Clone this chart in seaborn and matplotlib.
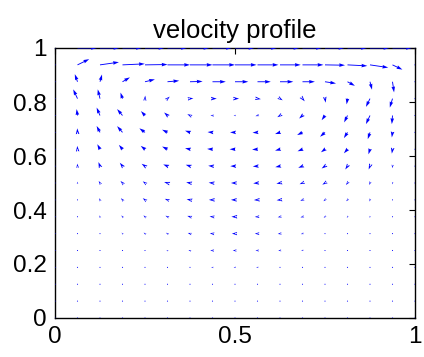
import numpy as np
import matplotlib
matplotlib.use("Agg")
import matplotlib.pyplot as plt
import seaborn as sns

# grid (17 x 17 nodes, h = 1/16)
x_nodes = [i / 16 for i in range(17)]
y_nodes = [j / 16 for j in range(17)]

# horizontal velocity, rows from y=0 (bottom) to y=1 (top)
u_rows = [
    [0, 0, 0, 0, 0, 0, 0, 0, 0, 0, 0, 0, 0, 0, 0, 0, 0],
    [0, 0, 0, 0, -.01, -.01, -.01, -.01, -.01, -.01, -.01, -.01, 0, 0, 0, 0, 0],
    [0, 0, 0, -.01, -.01, -.02, -.02, -.03, -.03, -.03, -.03, -.02, -.01, 0, 0, 0, 0],
    [0, 0, 0, -.01, -.02, -.03, -.04, -.06, -.06, -.06, -.05, -.04, -.02, -.01, 0, 0, 0],
    [0, 0, -.01, -.02, -.04, -.05, -.07, -.10, -.10, -.09, -.08, -.06, -.03, -.02, -.01, 0, 0],
    [0, 0, -.02, -.04, -.06, -.07, -.10, -.12, -.14, -.12, -.10, -.07, -.04, -.02, -.01, 0, 0],
    [0, 0, -.03, -.05, -.07, -.09, -.12, -.13, -.16, -.12, -.10, -.09, -.06, -.03, -.01, 0, 0],
    [0, 0, -.04, -.07, -.10, -.12, -.15, -.16, -.18, -.16, -.15, -.10, -.07, -.06, -.02, 0, 0],
    [0, 0, -.06, -.09, -.10, -.15, -.17, -.17, -.18, -.19, -.16, -.13, -.12, -.07, -.03, -.01, 0],
    [0, -.01, -.07, -.12, -.15, -.19, -.19, -.19, -.21, -.21, -.21, -.19, -.15, -.10, -.06, -.01, 0],
    [0, -.01, -.12, -.16, -.19, -.24, -.22, -.24, -.24, -.24, -.22, -.22, -.18, -.16, -.07, -.03, 0],
    [0, -.01, -.15, -.24, -.25, -.24, -.22, -.22, -.22, -.22, -.22, -.24, -.22, -.16, -.10, -.03, 0],
    [0, -.04, -.15, -.24, -.18, -.15, -.12, -.09, -.06, -.09, -.12, -.15, -.15, -.15, -.18, -.03, 0],
    [0, -.19, -.10, -.09, .01, .10, .15, .19, .18, .15, .12, .10, .03, -.04, -.18, -.12, 0],
    [0, -.12, .09, .33, .44, .52, .56, .59, .59, .59, .59, .55, .49, .33, .09, .07, 0],
    [0, .52, .84, .99, 1.0, 1.0, 1.0, 1.0, .96, .93, .92, .93, .89, .88, .81, .44, 0],
    [0, .86, .86, .86, .86, .86, .86, .86, .86, .86, .86, .86, .86, .86, .86, .86, 0],
]

# vertical velocity, same layout
v_rows = [
    [0] * 17,
    [0] * 17,
    [0, 0, .01, .01, .01, .01, 0, 0, 0, 0, 0, 0, -.01, 0, 0, 0, 0],
    [0, 0, .02, .02, .02, .02, .01, .01, 0, 0, 0, -.01, -.01, -.02, -.01, 0, 0],
    [0, .01, .04, .04, .04, .03, .03, .01, 0, 0, -.01, -.02, -.03, -.03, -.02, -.01, 0],
    [0, .02, .06, .06, .06, .05, .04, .02, 0, 0, -.02, -.03, -.04, -.04, -.04, -.02, 0],
    [0, .03, .08, .08, .08, .06, .05, .02, 0, -.01, -.03, -.04, -.06, -.07, -.07, -.03, 0],
    [0, .05, .10, .10, .10, .06, .04, 0, 0, -.01, -.02, -.06, -.08, -.08, -.10, -.05, 0],
    [0, .08, .12, .12, .10, .06, .04, .02, 0, -.02, -.04, -.07, -.10, -.12, -.12, -.08, 0],
    [0, .15, .24, .20, .14, .10, .08, .02, 0, -.02, -.06, -.10, -.14, -.20, -.20, -.12, 0],
    [0, .20, .30, .26, .20, .16, .06, .02, 0, -.02, -.08, -.12, -.18, -.24, -.30, -.26, 0],
    [0, .24, .38, .37, .24, .16, .10, .02, 0, -.02, -.10, -.16, -.26, -.34, -.40, -.30, 0],
    [0, .38, .47, .38, .26, .18, .08, .02, 0, -.04, -.10, -.18, -.28, -.41, -.51, -.51, 0],
    [0, .55, .55, .36, .18, .12, .02, 0, 0, -.03, -.10, -.16, -.24, -.34, -.49, -.53, 0],
    [0, .45, .43, .26, .14, .06, .02, 0, 0, 0, 0, 0, -.10, -.24, -.47, -.63, 0],
    [0, .34, .16, .06, .02, 0, 0, 0, 0, 0, 0, 0, -.02, -.06, -.16, -.28, 0],
    [0] * 17,
]

x_ticks = [0, 0.5, 1]
x_ticklabels = ["0", "0.5", "1"]
y_ticks = [0, 0.2, 0.4, 0.6, 0.8, 1]
y_ticklabels = ["0", "0.2", "0.4", "0.6", "0.8", "1"]
title = "velocity profile"

sns.set_theme(style="white")
plt.rcParams["font.family"] = ["Liberation Sans", "DejaVu Sans"]
plt.rcParams["text.color"] = "black"

W, H = 424, 357
fig = plt.figure(figsize=(W / 100, H / 100), dpi=100)
ax = fig.add_axes([55 / W, 1 - 318 / H, 360 / W, 270 / H])

X, Y = np.meshgrid(np.array(x_nodes), np.array(y_nodes))
U = np.array(u_rows)
V = np.array(v_rows)

ax.quiver(X, Y, U, V, color="#0000ff", angles="xy", scale_units="xy", scale=16,
          pivot="tail", units="dots", width=0.9, headwidth=4.0, headlength=6.5,
          headaxislength=6.0, minshaft=0.6, minlength=1.3, zorder=3)

ax.set_xlim(0, 1)
ax.set_ylim(0, 1)
ax.set_xticks(x_ticks)
ax.set_xticklabels(x_ticklabels)
ax.set_yticks(y_ticks)
ax.set_yticklabels(y_ticklabels)
ax.tick_params(direction="in", length=4, width=0.8, top=True, right=True,
               labelsize=17.5, colors="black", pad=6)
for s in ax.spines.values():
    s.set_color("black")
    s.set_linewidth(1.0)
ax.set_title(title, fontsize=18.5, pad=7, color="black")

fig.savefig("out.png", dpi=100, facecolor="white")
